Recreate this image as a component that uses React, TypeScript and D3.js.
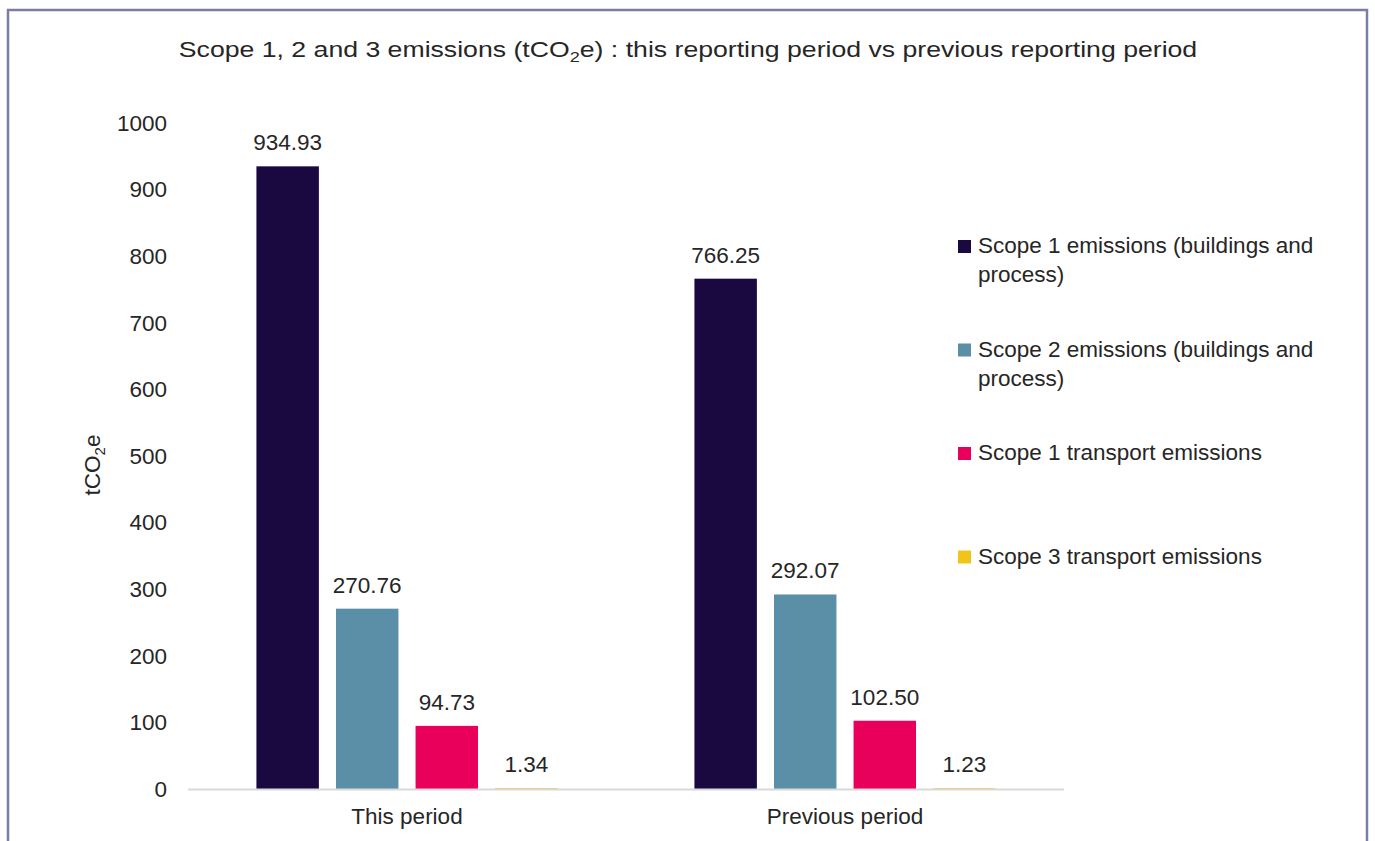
import * as d3 from "d3";
import { useEffect, useRef } from "react";

const categories = ["This period", "Previous period"];
const seriesNames = [
  "Scope 1 emissions (buildings and process)",
  "Scope 2 emissions (buildings and process)",
  "Scope 1 transport emissions",
  "Scope 3 transport emissions",
];
const legendLines = [
  ["Scope 1 emissions (buildings and", "process)"],
  ["Scope 2 emissions (buildings and", "process)"],
  ["Scope 1 transport emissions"],
  ["Scope 3 transport emissions"],
];
const seriesColors = ["#1a0840", "#5b8fa8", "#e8005a", "#f0c419"];
// values per series, one per category
const scope1Buildings = [934.93, 766.25];
const scope2Buildings = [270.76, 292.07];
const scope1Transport = [94.73, 102.5];
const scope3Transport = [1.34, 1.23];
const yTicks = [0, 100, 200, 300, 400, 500, 600, 700, 800, 900, 1000];

const App: React.FC = () => {
  const ref = useRef<HTMLDivElement | null>(null);

  useEffect(() => {
    if (!ref.current) return;
    d3.select(ref.current).selectAll("*").remove();

    const W = 1375;
    const H = 841;
    const font = "'Liberation Sans', Arial, sans-serif";
    const textColor = "#262626";
    const fs = 22.5;
    const values = [scope1Buildings, scope2Buildings, scope1Transport, scope3Transport];

    const svg = d3
      .select(ref.current)
      .append("svg")
      .attr("width", W)
      .attr("height", H)
      .style("position", "absolute")
      .style("left", "0px")
      .style("top", "0px")
      .style("font-family", font);

    svg.append("rect").attr("width", W).attr("height", H).attr("fill", "#fff");

    // chart frame
    svg
      .append("rect")
      .attr("x", 8)
      .attr("y", 10)
      .attr("width", 1359)
      .attr("height", 860)
      .attr("fill", "none")
      .attr("stroke", "#7c7ca6")
      .attr("stroke-width", 2.5);

    // title, stretched to the width it has in the original
    const titleG = svg.append("g");
    const title = titleG
      .append("text")
      .attr("text-anchor", "middle")
      .attr("font-size", 22)
      .attr("fill", textColor);
    title.append("tspan").text("Scope 1, 2 and 3 emissions (tCO");
    title.append("tspan").attr("font-size", 15).attr("dy", 5).text("2");
    title.append("tspan").attr("dy", -5).text("e) : this reporting period vs previous reporting period");
    const tw = (title.node() as SVGTextElement).getComputedTextLength() || 1019;
    titleG.attr("transform", `translate(688,57) scale(${1019 / tw},1)`);

    const y = d3.scaleLinear().domain([0, 1000]).range([789, 123]);
    const x0 = d3.scaleBand<string>().domain(categories).range([188, 1064]);
    const x1 = d3
      .scaleBand<string>()
      .domain(seriesNames)
      .range([0, x0.bandwidth()])
      .paddingInner(0.215)
      .paddingOuter(0.86);

    // y tick labels
    svg
      .append("g")
      .selectAll("text")
      .data(yTicks)
      .join("text")
      .attr("x", 167)
      .attr("y", (d) => y(d))
      .attr("dy", "0.35em")
      .attr("text-anchor", "end")
      .attr("font-size", fs)
      .attr("fill", textColor)
      .text((d) => d);

    // y axis title
    const yTitle = svg
      .append("text")
      .attr("transform", "translate(100,465) rotate(-90)")
      .attr("text-anchor", "middle")
      .attr("font-size", fs)
      .attr("fill", textColor);
    yTitle.append("tspan").text("tCO");
    yTitle.append("tspan").attr("font-size", 15).attr("dy", 5).text("2");
    yTitle.append("tspan").attr("dy", -5).text("e");

    // bars
    const groups = svg
      .append("g")
      .selectAll("g")
      .data(categories)
      .join("g")
      .attr("transform", (d) => `translate(${x0(d)},0)`);

    groups
      .selectAll("rect")
      .data((_, ci) => seriesNames.map((s, si) => ({ s, si, v: values[si][ci] })))
      .join("rect")
      .attr("x", (d) => x1(d.s) ?? 0)
      .attr("y", (d) => y(d.v))
      .attr("width", x1.bandwidth())
      .attr("height", (d) => y(0) - y(d.v))
      .attr("fill", (d) => seriesColors[d.si]);

    groups
      .selectAll("text")
      .data((_, ci) => seriesNames.map((s, si) => ({ s, si, v: values[si][ci] })))
      .join("text")
      .attr("x", (d) => (x1(d.s) ?? 0) + x1.bandwidth() / 2)
      .attr("y", (d) => y(d.v) - 16)
      .attr("text-anchor", "middle")
      .attr("font-size", fs)
      .attr("fill", textColor)
      .text((d) => d3.format(".2f")(d.v));

    // category axis
    svg
      .append("line")
      .attr("x1", 188)
      .attr("x2", 1064)
      .attr("y1", y(0) + 0.5)
      .attr("y2", y(0) + 0.5)
      .attr("stroke", "#d9d9d9")
      .attr("stroke-width", 2);

    svg
      .append("g")
      .selectAll("text")
      .data(categories)
      .join("text")
      .attr("x", (d) => (x0(d) ?? 0) + x0.bandwidth() / 2)
      .attr("y", 824)
      .attr("text-anchor", "middle")
      .attr("font-size", fs)
      .attr("fill", textColor)
      .text((d) => d);

    // legend
    const legend = svg
      .append("g")
      .selectAll("g")
      .data(legendLines)
      .join("g")
      .attr("transform", (_, i) => `translate(958,${253 + i * 103.5})`);

    legend
      .append("rect")
      .attr("x", 0)
      .attr("y", -13)
      .attr("width", 13)
      .attr("height", 13)
      .attr("fill", (_, i) => seriesColors[i]);

    legend
      .selectAll("text")
      .data((d) => d)
      .join("text")
      .attr("x", 20)
      .attr("y", (_, j) => j * 29)
      .attr("font-size", fs)
      .attr("fill", textColor)
      .text((d) => d);
  }, []);

  return <div ref={ref} />;
};

export default App;
